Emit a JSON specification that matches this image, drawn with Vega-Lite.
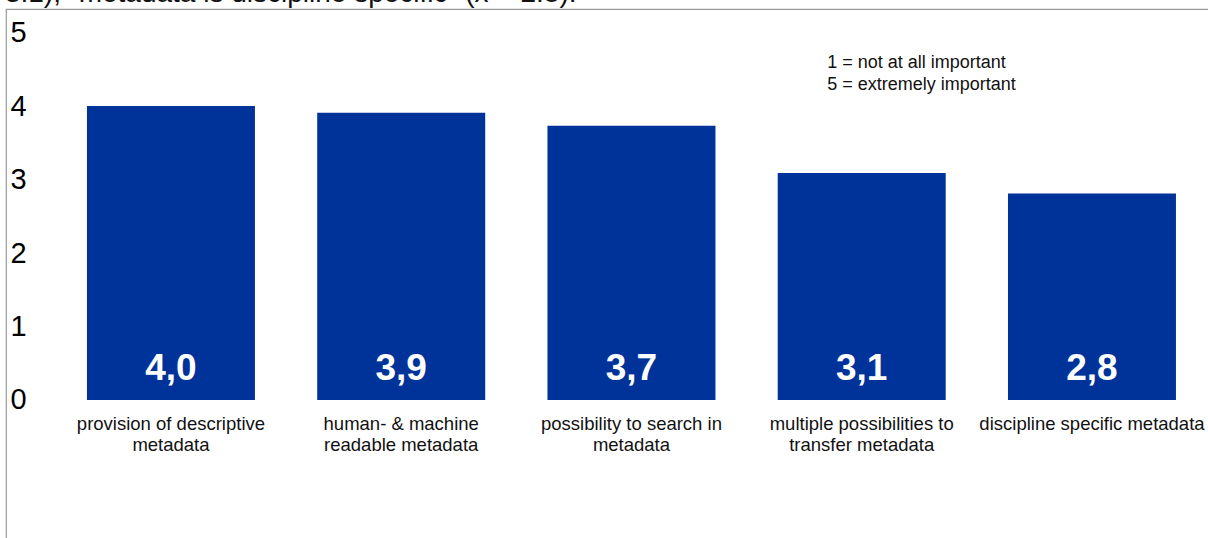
{
  "$schema": "https://vega.github.io/schema/vega-lite/v6.json",
  "width": 1204,
  "height": 531,
  "autosize": {"type": "none"},
  "padding": {"left": 6, "top": 9, "right": 0, "bottom": 0},
  "background": "white",
  "config": {
    "view": {"stroke": "#9a9a9a", "strokeWidth": 1.2},
    "font": "Liberation Sans",
    "locale": {"number": {"decimal": ",", "thousands": ".", "grouping": [3], "currency": ["", " €"]}}
  },
  "data": {
    "values": [
      {"item": "provision of descriptive metadata", "label": "provision of descriptive\nmetadata", "score": 4.0},
      {"item": "human- & machine readable metadata", "label": "human- & machine\nreadable metadata", "score": 3.91},
      {"item": "possibility to search in metadata", "label": "possibility to search in\nmetadata", "score": 3.73},
      {"item": "multiple possibilities to transfer metadata", "label": "multiple possibilities to\ntransfer metadata", "score": 3.09},
      {"item": "discipline specific metadata", "label": "discipline specific metadata", "score": 2.81}
    ]
  },
  "layer": [
    {
      "mark": {"type": "bar", "color": "#003399"},
      "encoding": {
        "x": {"field": "item", "type": "nominal", "sort": null, "axis": null,
              "scale": {"domain": ["provision of descriptive metadata", "human- & machine readable metadata", "possibility to search in metadata", "multiple possibilities to transfer metadata", "discipline specific metadata"],
                        "paddingInner": 0.2704, "paddingOuter": 0.2497, "align": 0.704}},
        "y": {"field": "score", "type": "quantitative",
              "scale": {"domain": [-1.905, 5.32], "nice": false, "zero": false},
              "axis": {"values": [0, 1, 2, 3, 4, 5], "format": "d", "domain": false, "ticks": false, "tickSize": 0,
                       "grid": false, "labelAlign": "left", "labelPadding": -4, "labelFontSize": 29,
                       "labelColor": "black", "labelFlush": false, "labelOverlap": false, "title": null}},
        "y2": {"datum": 0}
      }
    },
    {
      "mark": {"type": "text", "color": "white", "fontWeight": "bold", "fontSize": 37, "baseline": "middle", "dy": -31},
      "encoding": {
        "x": {"field": "item", "type": "nominal", "sort": null, "axis": null},
        "y": {"datum": 0, "type": "quantitative"},
        "text": {"field": "score", "type": "quantitative", "format": ".1f"}
      }
    },
    {
      "mark": {"type": "text", "color": "#111111", "fontSize": 18.5, "baseline": "alphabetic", "dy": 30, "lineHeight": 21, "lineBreak": "\n"},
      "encoding": {
        "x": {"field": "item", "type": "nominal", "sort": null, "axis": null},
        "y": {"datum": 0, "type": "quantitative"},
        "text": {"field": "label", "type": "nominal"}
      }
    },
    {
      "data": {"values": [{"item": "multiple possibilities to transfer metadata", "note": "1 = not at all important\n5 = extremely important"}]},
      "mark": {"type": "text", "color": "#111111", "fontSize": 18, "align": "left", "baseline": "alphabetic", "dx": -34.5, "lineHeight": 22, "lineBreak": "\n"},
      "encoding": {
        "x": {"field": "item", "type": "nominal", "sort": null, "axis": null},
        "y": {"datum": 4.517, "type": "quantitative"},
        "text": {"field": "note", "type": "nominal"}
      }
    },
    {
      "data": {"values": [{"item": "provision of descriptive metadata", "note": "3.1), \"metadata is discipline specific\" (x̄ = 2.8)."}]},
      "mark": {"type": "text", "color": "#111111", "fontSize": 28, "align": "left", "baseline": "alphabetic", "dx": -166},
      "encoding": {
        "x": {"field": "item", "type": "nominal", "sort": null, "axis": null},
        "y": {"datum": 5.42, "type": "quantitative"},
        "text": {"field": "note", "type": "nominal"}
      }
    }
  ]
}
